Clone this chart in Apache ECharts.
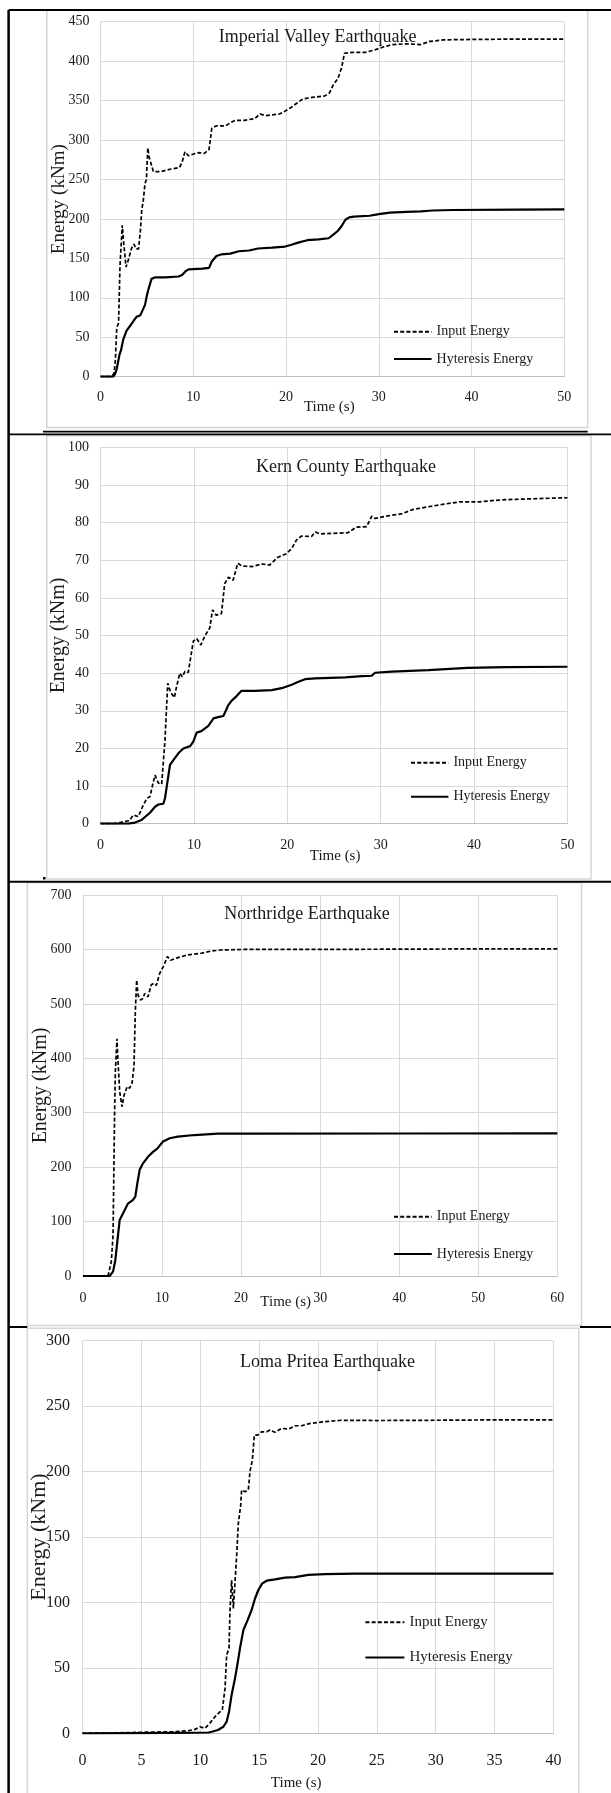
<!DOCTYPE html>
<html>
<head>
<meta charset="utf-8">
<title>Input and hysteresis energy</title>
<script src="https://cdn.jsdelivr.net/npm/echarts@6/dist/echarts.min.js"></script>
<style>
  html, body { margin: 0; padding: 0; background: #fff; }
  #chart { width: 611px; height: 1793px; }
</style>
</head>
<body>
<div id="chart"></div>
<script>
// [time (s), energy (kNm)]
var imperialInput = [[0,0],[1.2,0],[1.45,4],[1.6,20],[1.75,62],[1.95,68],[2.1,140],[2.35,192],[2.5,170],[2.75,139],[3.0,148],[3.35,163],[3.6,168],[3.85,162],[4.1,162],[4.3,185],[4.45,212],[4.6,222],[4.8,245],[4.95,250],[5.1,290],[5.25,278],[5.4,272],[5.7,260],[6.5,260],[7.5,263],[8.5,265],[8.8,272],[9.1,285],[9.5,280],[10.2,283],[10.6,284],[11.2,283],[11.7,288],[12.0,315],[12.5,318],[13.5,318],[14.0,322],[14.5,325],[15.5,325],[16.6,327],[17.2,333],[17.8,331],[19.3,333],[19.8,336],[20.5,341],[21.2,347],[21.8,352],[22.8,354],[24.2,356],[24.7,360],[25.1,370],[25.6,378],[26.0,392],[26.3,410],[27.2,411],[28.5,411],[29.5,414],[30.5,418],[31.5,421],[33,422],[34.5,421],[35.5,425],[37,427],[40,427.5],[45,428],[50,428]];
var imperialHyst = [[0,0],[1.35,0],[1.55,3],[1.75,10],[1.9,19],[2.05,28],[2.2,33],[2.45,47],[2.8,58],[3.1,63],[3.4,68],[3.7,73],[3.9,76],[4.3,78],[4.5,80],[4.8,91],[5.0,103],[5.2,112],[5.5,124],[5.9,126],[7,126],[8.4,127],[8.8,129],[9.2,134],[9.5,136],[11,137],[11.7,138],[12.0,146],[12.5,153],[13.0,155],[14.0,156],[14.9,159],[16,160],[17,162.5],[18.5,163.5],[19.9,165],[20.5,167],[21.3,170],[22.3,173],[23.5,174],[24.6,175.5],[25.1,180],[25.6,185],[26.0,191],[26.4,199],[26.8,202],[27.3,203],[29,204],[30,206],[31.2,208],[33,209],[34.5,209.5],[35.8,210.7],[38,211.3],[45,211.8],[50,212]];

var kernInput = [[0,0],[1.5,0],[2.6,0.6],[3.1,0.8],[3.5,2.3],[4.05,1.9],[4.5,4.5],[4.95,6.7],[5.3,7.2],[5.6,10.5],[5.84,12.9],[6.2,10.8],[6.55,10.5],[6.9,22],[7.2,37.3],[7.5,35],[7.9,33.5],[8.2,37],[8.5,40],[8.75,39],[9.05,40.5],[9.4,40.2],[9.6,40.5],[9.94,48.5],[10.3,49.2],[10.75,47.5],[11.2,50],[11.7,52],[12.0,56.8],[12.4,55.4],[12.95,55.8],[13.3,63.8],[13.7,65.5],[14.2,64.7],[14.7,69.2],[15.1,68.5],[16.2,68.3],[17.3,69],[18.1,68.7],[19,70.8],[19.9,71.7],[20.5,73.2],[21,75.4],[21.5,76.4],[22.6,76.3],[23,77.5],[23.5,77],[26.5,77.3],[27.4,78.8],[28.5,78.9],[29.05,81.7],[29.4,81.1],[30.8,81.8],[32.2,82.3],[33.5,83.5],[35.1,84.2],[36.8,84.9],[38.5,85.5],[40.6,85.5],[42.2,85.9],[43.5,86.1],[46,86.3],[50,86.6]];
var kernHyst = [[0,0],[3,0],[3.7,0.3],[4.4,1],[5.3,2.9],[5.84,4.5],[6.2,5.1],[6.73,5.3],[6.9,6.7],[7.09,9.8],[7.44,15.6],[7.8,16.9],[8.34,18.7],[8.87,20],[9.6,20.6],[9.94,21.8],[10.3,24.2],[10.8,24.6],[11.55,26],[12.1,28],[12.6,28.3],[13.16,28.6],[13.69,31.5],[14.05,32.7],[14.58,33.9],[15.1,35.3],[16.5,35.3],[18.33,35.5],[19.4,36],[20.47,36.9],[21.2,37.7],[21.9,38.4],[23,38.6],[26.2,38.9],[28,39.2],[29.05,39.3],[29.4,40.1],[31.2,40.4],[35.1,40.8],[39.3,41.4],[43.5,41.6],[50,41.7]];

var northInput = [[0,0],[3.16,0],[3.58,26],[3.8,75],[4.0,302],[4.09,375],[4.3,436],[4.43,394],[4.64,339],[4.93,311],[5.19,332],[5.6,348],[5.9,345],[6.2,354],[6.45,385],[6.62,486],[6.79,544],[6.96,516],[7.3,507],[7.59,510],[7.8,519],[8.22,513],[8.64,535],[8.98,538],[9.28,534],[9.7,556],[10.25,571],[10.67,587],[11.09,580],[12.0,585],[13.28,590],[14.97,593],[16.2,597],[17.5,599],[20.45,600],[30,600],[40,600.5],[50,601],[60,601]];
var northHyst = [[0,0],[3.37,0],[3.8,8],[4.09,29],[4.34,63],[4.64,103],[5.06,115],[5.69,133],[6.33,140],[6.62,146],[6.87,170],[7.17,195],[7.59,207],[8.22,219],[8.86,228],[9.4,234],[10.12,247],[10.96,253],[12.0,256],[14.1,259],[17.08,261.5],[22.1,261.5],[40,261.8],[60,262]];

var lomaInput = [[0,0],[2.5,0.2],[5,0.8],[7.85,1.2],[9.0,2],[9.55,3],[9.97,5],[10.4,3.8],[10.8,7.6],[11.25,12.7],[11.68,16.5],[11.87,17.8],[12.1,34.3],[12.24,59.8],[12.44,64.9],[12.52,93],[12.66,117],[12.81,95.5],[12.95,115.8],[13.09,136],[13.23,160.4],[13.43,174],[13.51,185.9],[13.8,184.6],[14.08,185.9],[14.22,199.8],[14.42,208.8],[14.59,227.8],[14.87,227.8],[15.2,230.4],[15.64,230.4],[15.92,231.7],[16.35,230],[16.9,233],[17.48,232.5],[18.05,235],[18.61,235],[19.18,236.5],[20.03,237.6],[21.16,238.6],[22,239.2],[25,239],[30,239.2],[35,239.5],[40,239.5]];
var lomaHyst = [[0,0],[5,0.2],[8,0.4],[10.7,0.6],[10.97,1.2],[11.5,2.5],[11.96,5],[12.24,8.9],[12.44,16.5],[12.66,29.3],[12.95,42],[13.17,53.5],[13.37,64.9],[13.66,78.9],[14.02,86.5],[14.36,94.2],[14.65,103],[14.93,109.5],[15.27,114.6],[15.64,116.6],[16.35,117.6],[17.2,118.9],[18.05,119.4],[19.18,121],[20.6,121.7],[23.15,122],[30,122],[40,122]];

var panelTitles = ['Imperial Valley Earthquake', 'Kern County Earthquake', 'Northridge Earthquake', 'Loma Pritea Earthquake'];
var seriesNames = ['Input Energy', 'Hyteresis Energy'];
var xMax = [50, 50, 60, 40];
var xStep = [10, 10, 10, 5];
var yMax = [450, 100, 700, 300];
var yStep = [50, 10, 100, 50];

var inputData = [imperialInput, kernInput, northInput, lomaInput];
var hystData = [imperialHyst, kernHyst, northHyst, lomaHyst];

var FONT = 'Liberation Serif';
var TEXT = '#1a1a1a';
var GRIDLINE = '#d9d9d9';

// page layout of each panel (pixels)
var layout = [
  { grid: [100.5, 21.7, 463.8, 355], tick: 14, xMargin: 13.6, yMargin: 11, yName: 19, yGap: 32,
    title: [317.6, 37.5], xName: [329.3, 407.5], legend: [393, 324.7, 37.6, 13.3, 14] },
  { grid: [100.5, 447.3, 466.9, 376.4], tick: 14, xMargin: 14.4, yMargin: 11.5, yName: 20, yGap: 32,
    title: [345.9, 467], xName: [335.1, 855.8], legend: [410, 755.7, 37.4, 20, 14] },
  { grid: [83, 895, 474.3, 381], tick: 14, xMargin: 15.3, yMargin: 11.5, yName: 20, yGap: 32,
    title: [306.9, 914.5], xName: [285.7, 1301.7], legend: [393, 1209.7, 37.8, 23.3, 14] },
  { grid: [82.6, 1340.7, 470.8, 392.6], tick: 16, xMargin: 19.6, yMargin: 12.5, yName: 22, yGap: 32,
    title: [327.4, 1362], xName: [296.2, 1783.3], legend: [364.4, 1614.7, 39, 20.3, 15] }
];

var grids = [], xAxes = [], yAxes = [], series = [], titles = [], legends = [], graphics = [];

// light grey chart-area boxes
var boxes = [[46.8, 10, 540.9, 417.5], [46.8, 435.8, 544.2, 443.2], [27.3, 882.5, 554.2, 443], [27.3, 1328.3, 551.4, 480]];
boxes.forEach(function (b) {
  graphics.push({ type: 'rect', shape: { x: b[0], y: b[1], width: b[2], height: b[3] },
    style: { fill: 'none', stroke: '#d6d6d6', lineWidth: 1.5 }, silent: true });
});

// black table rules
var rules = [
  [8.6, 10, 8.6, 1793, 2.5],
  [8.6, 10, 611, 10, 2.2],
  [43, 431.6, 587.7, 431.6, 1.8],
  [8.6, 434.4, 611, 434.4, 1.6],
  [8.6, 881.7, 611, 881.7, 2],
  [8.6, 1327, 27.3, 1327, 2],
  [580, 1327, 611, 1327, 2]
];
rules.forEach(function (r) {
  graphics.push({ type: 'line', shape: { x1: r[0], y1: r[1], x2: r[2], y2: r[3] },
    style: { stroke: '#000', lineWidth: r[4] }, silent: true });
});
graphics.push({ type: 'rect', shape: { x: 43, y: 877, width: 2.5, height: 2.5 }, style: { fill: '#000' }, silent: true });

layout.forEach(function (p, i) {
  grids.push({ left: p.grid[0], top: p.grid[1], width: p.grid[2], height: p.grid[3] });

  xAxes.push({
    type: 'value', gridIndex: i, min: 0, max: xMax[i], interval: xStep[i],
    axisLine: { show: true, lineStyle: { color: '#bfbfbf', width: 1 } },
    axisTick: { show: false },
    splitLine: { show: true, lineStyle: { color: GRIDLINE, width: 1 } },
    axisLabel: { margin: p.xMargin, fontFamily: FONT, fontSize: p.tick, color: TEXT }
  });

  yAxes.push({
    type: 'value', gridIndex: i, min: 0, max: yMax[i], interval: yStep[i],
    name: 'Energy (kNm)', nameLocation: 'middle', nameGap: p.yGap, nameMoveOverlap: false,
    nameTextStyle: { fontFamily: FONT, fontSize: p.yName, color: TEXT },
    axisLine: { show: false },
    axisTick: { show: false },
    splitLine: { show: true, lineStyle: { color: GRIDLINE, width: 1 } },
    axisLabel: { margin: p.yMargin, fontFamily: FONT, fontSize: p.tick, color: TEXT }
  });

  series.push({
    name: seriesNames[0], type: 'line', xAxisIndex: i, yAxisIndex: i,
    data: inputData[i], symbol: 'none', showSymbol: false,
    color: '#000',
    lineStyle: { color: '#000', width: 1.7, type: [4, 2.2] }
  });
  series.push({
    name: seriesNames[1], type: 'line', xAxisIndex: i, yAxisIndex: i,
    data: hystData[i], symbol: 'none', showSymbol: false,
    color: '#000',
    lineStyle: { color: '#000', width: 2.2, type: 'solid' }
  });

  titles.push({
    text: panelTitles[i], left: p.title[0], top: p.title[1], padding: 0,
    textAlign: 'center', textVerticalAlign: 'middle',
    textStyle: { fontFamily: FONT, fontSize: 18, fontWeight: 'normal', color: TEXT }
  });

  // line-only legend keys (no marker dot)
  legends.push({
    data: seriesNames, orient: 'vertical', left: p.legend[0], top: p.legend[1], padding: 0,
    itemWidth: p.legend[2], itemHeight: 14, itemGap: p.legend[3], selectedMode: false,
    itemStyle: { opacity: 0 },
    textStyle: { fontFamily: FONT, fontSize: p.legend[4], color: TEXT }
  });

  graphics.push({
    type: 'text', x: p.xName[0], y: p.xName[1], silent: true,
    style: { text: 'Time (s)', font: '15px "Liberation Serif"', fill: TEXT,
      align: 'center', verticalAlign: 'middle', textAlign: 'center', textVerticalAlign: 'middle' }
  });
});

var chart = echarts.init(document.getElementById('chart'), null, { renderer: 'canvas' });
chart.setOption({
  backgroundColor: '#fff',
  animation: false,
  title: titles,
  legend: legends,
  grid: grids,
  xAxis: xAxes,
  yAxis: yAxes,
  series: series,
  graphic: { elements: graphics }
});
</script>
</body>
</html>
